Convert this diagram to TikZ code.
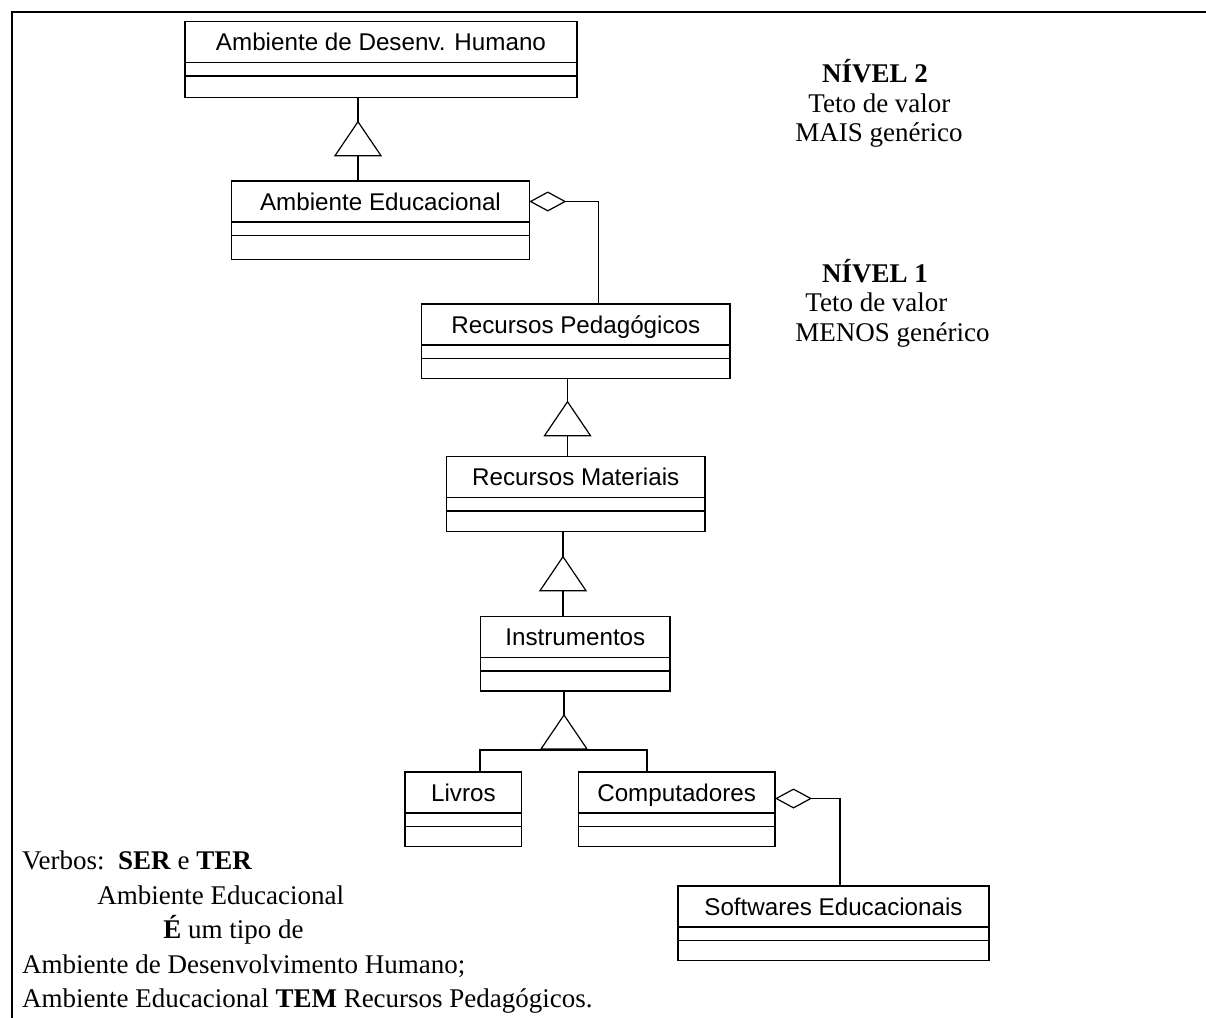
\documentclass[tikz,border=0pt]{standalone}
\usepackage{fontspec}
\setmainfont{Liberation Serif}
\setsansfont{Liberation Sans}
\usepackage{tikz}
\usetikzlibrary{arrows.meta,positioning,calc}

\begin{document}
\begin{tikzpicture}[
  x=0.5pt,
  y=-0.5pt,
  cname/.style={draw, line width=0.75pt, inner sep=0pt, outer sep=0pt, minimum height=20.5pt,
    text height=8.7pt, text depth=0pt, font=\sffamily\fontsize{12.1pt}{14pt}\selectfont},
  cpart/.style={draw, line width=0.75pt, inner sep=0pt, outer sep=0pt},
  link/.style={line width=0.6pt},
  gentri/.style={line width=0.6pt, fill=white},
  agg/.style={line width=0.6pt, {Diamond[open, length=18.5pt, width=10pt]}-},
  note/.style={inner sep=0pt, font=\fontsize{13.5pt}{16pt}\selectfont},
  frame/.style={line width=1.2pt},
]

\useasboundingbox (0,0) rectangle (1206,1018);

% Frame (top and left only)
\draw[frame] (1206,12) -- (12,12) -- (12,1018);

% Classes: name / left / top / width / lower part / label
\foreach \nm/\xx/\yy/\ww/\hh/\txt in {
    adh/185/21.7/392/21.5/{Ambiente de Desenv. Humano},
    ae/231.7/181/297.6/24/{Ambiente Educacional},
    rp/421.7/304/308.3/20/{Recursos Pedagógicos},
    rm/446.5/456.7/258.5/20.5/{Recursos Materiais},
    inst/480.7/616.7/189.3/20/{Instrumentos},
    liv/405/772/116.7/20/{Livros},
    comp/578.3/772/196.7/20/{Computadores},
    soft/678/886/311/20/{Softwares Educacionais}}{
  \node[cname, minimum width=\ww*0.5pt, anchor=north west] (\nm) at (\xx,\yy) {\txt};
  \node[cpart, minimum width=\ww*0.5pt, minimum height=6.75pt, anchor=north] (\nm-a) at (\nm.south) {};
  \node[cpart, minimum width=\ww*0.5pt, minimum height=\hh*0.5pt, anchor=north] (\nm-o) at (\nm-a.south) {};
}

% Generalization triangles (apex)
\coordinate (t1) at (358,121.7);
\coordinate (t2) at (567.5,401.7);
\coordinate (t3) at (563,556.7);
\coordinate (t4) at (564,715);

\foreach \g in {t1,t2,t3,t4}
  \draw[gentri] (\g) -- ++(-23,34) -- ++(46,0) -- cycle;

\foreach \g/\p/\c in {t1/adh/ae, t2/rp/rm, t3/rm/inst}{
  \draw[link] (\p-o.south -| \g) -- (\g);
  \draw[link] ($(\g)+(0,34)$) -- (\g |- \c.north);
}
\draw[link] (inst-o.south -| t4) -- (t4);
\draw[link] ([xshift=8.35pt]liv.north) -- ++(0,-22) -| ([xshift=-14.85pt]comp.north);

% Aggregations
\draw[agg] (ae.east) -| ([xshift=11.25pt]rp.north);
\draw[agg] ([yshift=-3pt]comp.east) -| ([xshift=3.25pt]soft.north);

% Levels
\node[note, anchor=base west] (n2)  at (821.7,82)  {\textbf{NÍVEL 2}};
\node[note, anchor=base west] (n2a) at (808,112)   {Teto de valor};
\node[note, anchor=base west] (n2b) at (795,141)   {MAIS genérico};
\node[note, anchor=base west] (n1)  at (821.7,282) {\textbf{NÍVEL 1}};
\node[note, anchor=base west] (n1a) at (805,311)   {Teto de valor};
\node[note, anchor=base west] (n1b) at (795,341)   {MENOS genérico};

% Verbs
\node[note, anchor=base west] (v1) at (21.7,869.5) {Verbos:\ \ \textbf{SER} e \textbf{TER}};
\node[note, anchor=base west] (v2) at (97,904)     {Ambiente Educacional};
\node[note, anchor=base west] (v3) at (163,938.5)  {\textbf{É} um tipo de};
\node[note, anchor=base west] (v4) at (21.7,973)   {Ambiente de Desenvolvimento Humano;};
\node[note, anchor=base west] (v5) at (21.7,1007.5) {Ambiente Educacional \textbf{TEM} Recursos Pedagógicos.};

\end{tikzpicture}
\end{document}
